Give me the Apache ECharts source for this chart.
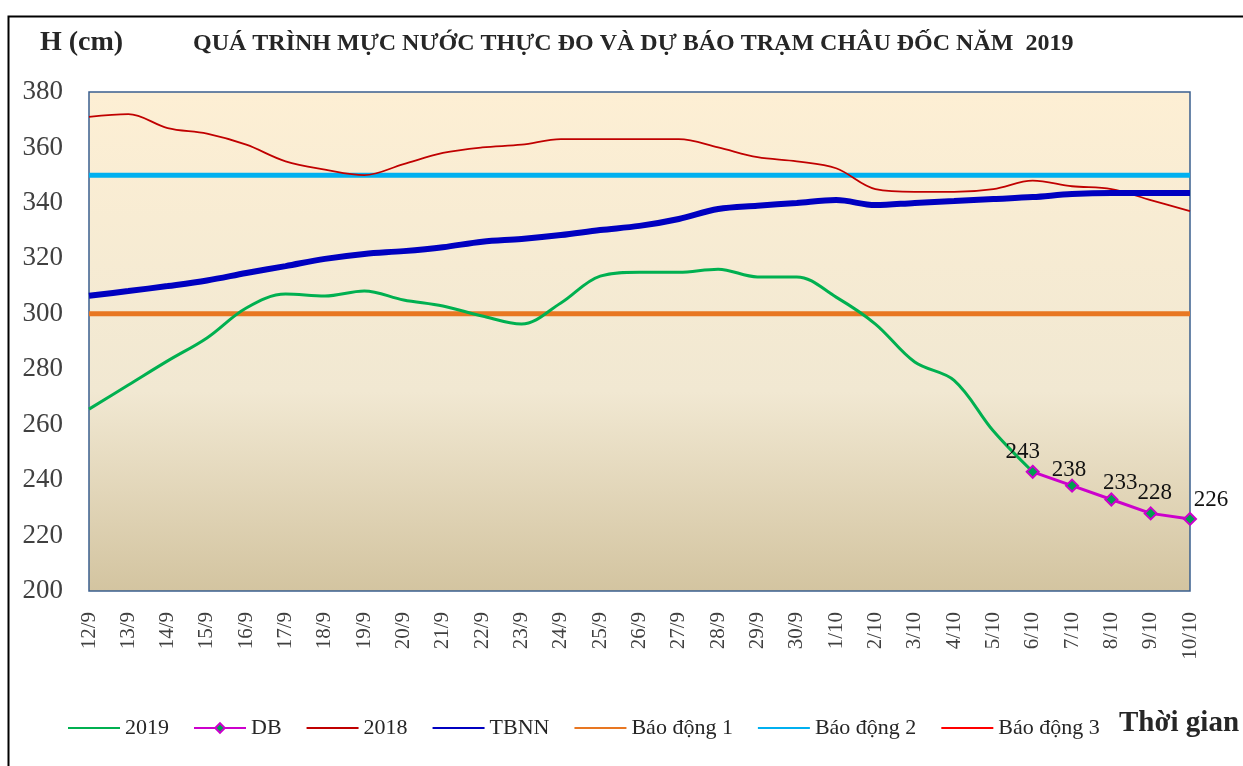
<!DOCTYPE html>
<html>
<head>
<meta charset="utf-8">
<script src="https://cdn.jsdelivr.net/npm/echarts@6/dist/echarts.min.js"></script>
<style>
  html, body { margin: 0; padding: 0; background: #fff; }
  #chart { width: 1243px; height: 766px; }
</style>
</head>
<body>
<div id="chart"></div>
<script>
// ngày
var days = ['12/9','13/9','14/9','15/9','16/9','17/9','18/9','19/9','20/9','21/9','22/9','23/9','24/9','25/9',
  '26/9','27/9','28/9','29/9','30/9','1/10','2/10','3/10','4/10','5/10','6/10','7/10','8/10','9/10','10/10'];

// mực nước thực đo 2019
var h2019 = [265.6,274.3,283,291.3,302.1,307.1,306.4,308.2,305,302.8,299.2,296.3,303.9,313.6,
  315,315,316.1,313.3,313.3,306,296.3,282.6,276,257.7,243,null,null,null,null];
// dự báo
var hDB = [null,null,null,null,null,null,null,null,null,null,null,null,null,null,
  null,null,null,null,null,null,null,null,null,null,243,238,233,228,226];
// năm 2018
var h2018 = [371,372,367,365,361,355,352,350,354,358,360,361,363,363,
  363,363,360,356.5,355,352.5,345,344,344,345,348,346,345,341,337];
// trung bình nhiều năm
var hTBNN = [306.5,308.2,310,312,314.7,317.2,319.8,321.6,322.6,324,326,327,328.4,330.2,
  331.7,334.2,337.8,339,340,341,339.2,340,340.7,341.4,342.1,343.2,343.6,343.6,343.6];
// mức báo động
var bd1 = 300, bd2 = 350, bd3 = 450;
var yTicks = [200, 380, 20];

var chart = echarts.init(document.getElementById('chart'));
var serif = 'Liberation Serif';

function flat(v) {
  return days.map(function () { return v; });
}

// vị trí nhãn cho các điểm dự báo (so với điểm)
var dbLabelOffset = [[-10, -20], [-3, -16], [9, -17], [4, -20], [21, -19]];
var dbData = hDB.map(function (v, i) {
  if (v == null) return null;
  return { value: v, label: { offset: dbLabelOffset[i - 24] } };
});

// chú thích: chỉ vẽ đường, không vẽ chấm
var hideDot = { itemStyle: { opacity: 0 } };
var legendNames = ['2019', 'DB', '2018', 'TBNN', 'Báo động 1', 'Báo động 2', 'Báo động 3'];
var legendData = legendNames.map(function (n) {
  return n == 'DB' ? { name: n } : Object.assign({ name: n }, hideDot);
});

var option = {
  backgroundColor: '#fff',
  animation: false,
  textStyle: { fontFamily: serif },
  graphic: [
    { type: 'rect', left: 6, top: 14, shape: { width: 1300, height: 800 },
      style: { fill: 'none', stroke: '#000', lineWidth: 2 } },
    { type: 'text', left: 40, top: 29,
      style: { text: 'H (cm)', font: 'bold 28px ' + serif, fill: '#262626' } },
    { type: 'text', left: 193, top: 32,
      style: { text: 'QUÁ TRÌNH MỰC NƯỚC THỰC ĐO VÀ DỰ BÁO TRẠM CHÂU ĐỐC NĂM  2019', font: 'bold 24px ' + serif, fill: '#262626' } },
    { type: 'text', left: 1119, top: 709,
      style: { text: 'Thời gian', font: 'bold 29px ' + serif, fill: '#262626' } }
  ],
  legend: {
    left: 62,
    top: 712,
    itemWidth: 52,
    itemHeight: 12,
    itemGap: 24,
    textStyle: { fontFamily: serif, fontSize: 22, color: '#262626' },
    lineStyle: { width: 2 },
    data: legendData
  },
  grid: {
    left: 89, right: 53, top: 92, bottom: 175,
    show: true,
    borderColor: '#3A5F8F',
    borderWidth: 1.5,
    backgroundColor: new echarts.graphic.LinearGradient(0, 0, 0, 1, [
      { offset: 0, color: '#FDEFD4' },
      { offset: 0.6, color: '#F1E8D2' },
      { offset: 1, color: '#D3C4A0' }
    ])
  },
  xAxis: {
    type: 'category',
    data: days,
    boundaryGap: false,
    axisLine: { show: false },
    axisTick: { show: false },
    axisLabel: { rotate: 90, fontSize: 21, color: '#404040', fontFamily: serif, margin: 21, interval: 0 }
  },
  yAxis: {
    type: 'value',
    min: yTicks[0], max: yTicks[1], interval: yTicks[2],
    axisLine: { show: false },
    axisTick: { show: false },
    splitLine: { show: false },
    axisLabel: { fontSize: 27, color: '#404040', fontFamily: serif, margin: 26 }
  },
  series: [
    { name: '2019', type: 'line', data: h2019, symbol: 'none', smooth: 0.35,
      lineStyle: { color: '#00B050', width: 3 }, itemStyle: { color: '#00B050' }, z: 5 },
    { name: 'DB', type: 'line', data: dbData, symbol: 'diamond', symbolSize: 12,
      lineStyle: { color: '#CC00CC', width: 3 },
      itemStyle: { color: '#00A050', borderColor: '#CC00CC', borderWidth: 2 },
      label: { show: true, position: 'inside', fontSize: 23, color: '#111', fontFamily: serif },
      z: 6 },
    { name: '2018', type: 'line', data: h2018, symbol: 'none', smooth: 0.35,
      lineStyle: { color: '#C00000', width: 1.8 }, itemStyle: { color: '#C00000' }, z: 3 },
    { name: 'TBNN', type: 'line', data: hTBNN, symbol: 'none', smooth: 0.35,
      lineStyle: { color: '#0000C0', width: 6 }, itemStyle: { color: '#0000C0' }, z: 4 },
    { name: 'Báo động 1', type: 'line', data: flat(bd1), symbol: 'none',
      lineStyle: { color: '#E87722', width: 5 }, itemStyle: { color: '#E87722' }, z: 2 },
    { name: 'Báo động 2', type: 'line', data: flat(bd2), symbol: 'none',
      lineStyle: { color: '#00B0F0', width: 5 }, itemStyle: { color: '#00B0F0' }, z: 2 },
    { name: 'Báo động 3', type: 'line', data: flat(bd3), symbol: 'none', clip: true,
      lineStyle: { color: '#FF0000', width: 2 }, itemStyle: { color: '#FF0000' }, z: 2 }
  ]
};

chart.setOption(option);
</script>
</body>
</html>
